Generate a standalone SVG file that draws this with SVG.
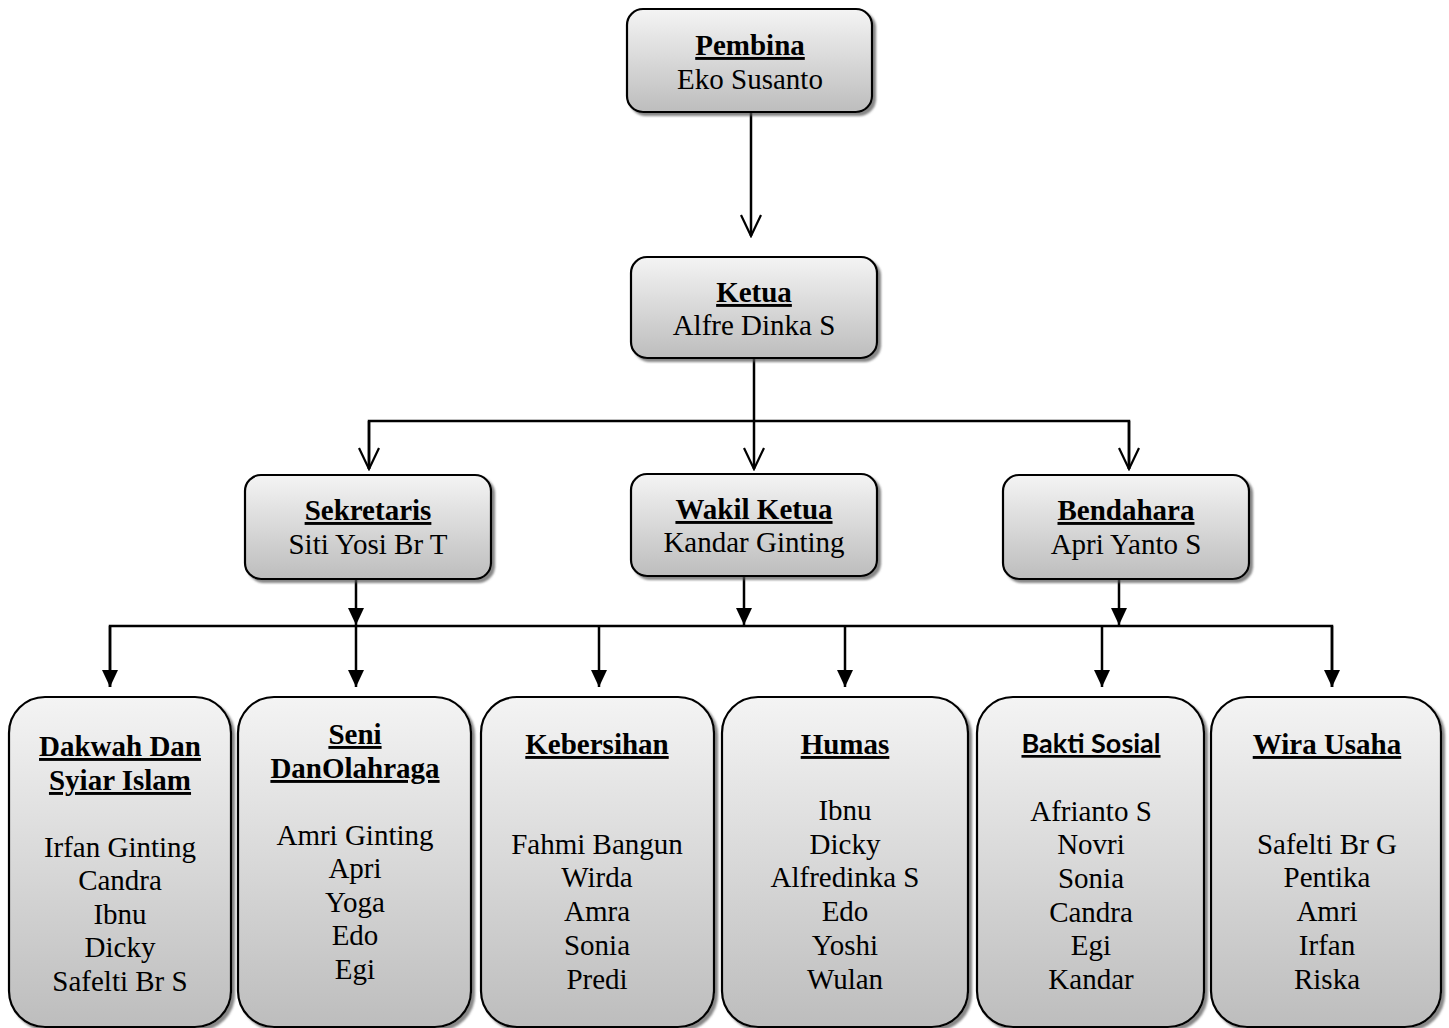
<svg xmlns="http://www.w3.org/2000/svg" width="1449" height="1028" viewBox="0 0 1449 1028">
<style>
.box{fill:url(#g);stroke:#000;stroke-width:2.2;filter:url(#sh)}
.t{font-family:"Liberation Serif","Times New Roman",serif;font-size:29px;fill:#000;text-anchor:middle}
.b{font-weight:bold;text-decoration:underline}
.s{font-family:Lato,"Liberation Sans",sans-serif;font-size:27px;font-weight:bold;text-decoration:underline;fill:#000;text-anchor:middle}
.c{stroke:#000;stroke-width:2.5;fill:none}
</style>
<defs>
<linearGradient id="g" x1="0" y1="0" x2="0" y2="1">
<stop offset="0" stop-color="#f4f4f4"/>
<stop offset="1" stop-color="#bdbdbd"/>
</linearGradient>
<filter id="sh" x="-10%" y="-10%" width="120%" height="120%">
<feDropShadow dx="3" dy="3" stdDeviation="1.2" flood-color="#555" flood-opacity="0.7"/>
</filter>
<marker id="open" markerUnits="userSpaceOnUse" viewBox="0 0 24 24" refX="22" refY="12" markerWidth="24" markerHeight="24" orient="auto">
<path d="M1,2 L22,12 L1,22" fill="none" stroke="#000" stroke-width="2.2"/>
</marker>
<marker id="fill" markerUnits="userSpaceOnUse" viewBox="0 0 17 16" refX="17" refY="8" markerWidth="17" markerHeight="16" orient="auto">
<path d="M0,0 L17,8 L0,16 z" fill="#000"/>
</marker>
</defs>

<g id="connectors">
<line class="c" x1="751" y1="112" x2="751" y2="236" marker-end="url(#open)"/>
<line class="c" x1="754" y1="358" x2="754" y2="469" marker-end="url(#open)"/>
<polyline class="c" points="369,469 369,421 1129,421 1129,469"/>
<path class="c" d="M369,421 L369,469" marker-end="url(#open)"/>
<path class="c" d="M1129,421 L1129,469" marker-end="url(#open)"/>
<line class="c" x1="356" y1="579" x2="356" y2="625" marker-end="url(#fill)"/>
<line class="c" x1="744" y1="576" x2="744" y2="625" marker-end="url(#fill)"/>
<line class="c" x1="1119" y1="579" x2="1119" y2="625" marker-end="url(#fill)"/>
<polyline class="c" points="110,687 110,626 1332,626 1332,687"/>
<path class="c" d="M110,626 L110,687" marker-end="url(#fill)"/>
<path class="c" d="M356,626 L356,687" marker-end="url(#fill)"/>
<path class="c" d="M599,626 L599,687" marker-end="url(#fill)"/>
<path class="c" d="M845,626 L845,687" marker-end="url(#fill)"/>
<path class="c" d="M1102,626 L1102,687" marker-end="url(#fill)"/>
<path class="c" d="M1332,626 L1332,687" marker-end="url(#fill)"/>
</g>

<g id="pembina">
<rect class="box" x="627" y="9" width="245" height="103" rx="16"/>
<text class="t b" x="750" y="55">Pembina</text>
<text class="t" x="750" y="89">Eko Susanto</text>
</g>
<g id="ketua">
<rect class="box" x="631" y="257" width="246" height="101" rx="16"/>
<text class="t b" x="754" y="302">Ketua</text>
<text class="t" x="754" y="335">Alfre Dinka S</text>
</g>
<g id="sekretaris">
<rect class="box" x="245" y="475" width="246" height="104" rx="16"/>
<text class="t b" x="368" y="520">Sekretaris</text>
<text class="t" x="368" y="554">Siti Yosi Br T</text>
</g>
<g id="wakil">
<rect class="box" x="631" y="474" width="246" height="102" rx="16"/>
<text class="t b" x="754" y="519">Wakil Ketua</text>
<text class="t" x="754" y="552">Kandar Ginting</text>
</g>
<g id="bendahara">
<rect class="box" x="1003" y="475" width="246" height="104" rx="16"/>
<text class="t b" x="1126" y="520">Bendahara</text>
<text class="t" x="1126" y="554">Apri Yanto S</text>
</g>

<g id="dakwah">
<rect class="box" x="9" y="697" width="222" height="330" rx="36"/>
<text class="t b" x="120" y="756">Dakwah Dan</text>
<text class="t b" x="120" y="790">Syiar Islam</text>
<text class="t" x="120" y="857">Irfan Ginting</text>
<text class="t" x="120" y="890">Candra</text>
<text class="t" x="120" y="924">Ibnu</text>
<text class="t" x="120" y="957">Dicky</text>
<text class="t" x="120" y="991">Safelti Br S</text>
</g>
<g id="seni">
<rect class="box" x="238" y="697" width="233" height="330" rx="36"/>
<text class="t b" x="355" y="744">Seni</text>
<text class="t b" x="355" y="778">DanOlahraga</text>
<text class="t" x="355" y="845">Amri Ginting</text>
<text class="t" x="355" y="878">Apri</text>
<text class="t" x="355" y="912">Yoga</text>
<text class="t" x="355" y="945">Edo</text>
<text class="t" x="355" y="979">Egi</text>
</g>
<g id="kebersihan">
<rect class="box" x="481" y="697" width="233" height="330" rx="36"/>
<text class="t b" x="597" y="754">Kebersihan</text>
<text class="t" x="597" y="854">Fahmi Bangun</text>
<text class="t" x="597" y="887">Wirda</text>
<text class="t" x="597" y="921">Amra</text>
<text class="t" x="597" y="955">Sonia</text>
<text class="t" x="597" y="989">Predi</text>
</g>
<g id="humas">
<rect class="box" x="722" y="697" width="246" height="330" rx="36"/>
<text class="t b" x="845" y="754">Humas</text>
<text class="t" x="845" y="820">Ibnu</text>
<text class="t" x="845" y="854">Dicky</text>
<text class="t" x="845" y="887">Alfredinka S</text>
<text class="t" x="845" y="921">Edo</text>
<text class="t" x="845" y="955">Yoshi</text>
<text class="t" x="845" y="989">Wulan</text>
</g>
<g id="bakti">
<rect class="box" x="977" y="697" width="227" height="330" rx="36"/>
<text class="s" x="1091" y="753">Bakti Sosial</text>
<text class="t" x="1091" y="821">Afrianto S</text>
<text class="t" x="1091" y="854">Novri</text>
<text class="t" x="1091" y="888">Sonia</text>
<text class="t" x="1091" y="922">Candra</text>
<text class="t" x="1091" y="955">Egi</text>
<text class="t" x="1091" y="989">Kandar</text>
</g>
<g id="wira">
<rect class="box" x="1211" y="697" width="230" height="330" rx="36"/>
<text class="t b" x="1327" y="754">Wira Usaha</text>
<text class="t" x="1327" y="854">Safelti Br G</text>
<text class="t" x="1327" y="887">Pentika</text>
<text class="t" x="1327" y="921">Amri</text>
<text class="t" x="1327" y="955">Irfan</text>
<text class="t" x="1327" y="989">Riska</text>
</g>
</svg>
